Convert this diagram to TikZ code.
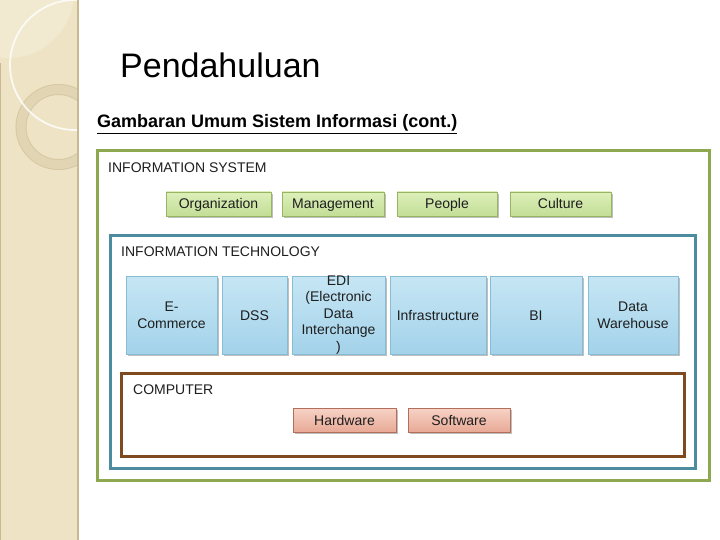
\documentclass[tikz,border=0pt]{standalone}
\usepackage{fontspec}
\setmainfont{Liberation Sans}
\usetikzlibrary{shadows}
\definecolor{sidebg}{HTML}{EEE3C4}
\definecolor{sideline}{HTML}{C9B990}
\definecolor{ringc}{HTML}{E2D5B3}
\definecolor{ringe}{HTML}{D6C8A4}
\definecolor{txt}{HTML}{1E1E1E}
\definecolor{gframe}{HTML}{8EA850}
\definecolor{tframe}{HTML}{4B8C9E}
\definecolor{bframe}{HTML}{7E4A1E}
\definecolor{gtop}{HTML}{DCEFBA}
\definecolor{gbot}{HTML}{C3DE96}
\definecolor{gbord}{HTML}{98B661}
\definecolor{btop}{HTML}{C6E6F4}
\definecolor{bbot}{HTML}{A3D2EA}
\definecolor{bbord}{HTML}{86BCD4}
\definecolor{stop}{HTML}{F7D3C6}
\definecolor{sbot}{HTML}{E8A996}
\definecolor{sbord}{HTML}{B46E5C}
\tikzset{
  lbl/.style={font=\fontsize{14}{17}\selectfont, text=txt, anchor=west, inner sep=0pt},
  item/.style={line width=0.8pt, align=center, inner sep=1pt, text=txt,
    font=\fontsize{14}{17}\selectfont,
    drop shadow={shadow xshift=1.5pt, shadow yshift=-2pt, opacity=0.25, fill=black}},
  oneline/.style={text height=10pt, text depth=0pt},
  gitem/.style={item, oneline, draw=gbord, top color=gtop, bottom color=gbot, minimum height=24pt},
  bitem/.style={item, draw=bbord, top color=btop, bottom color=bbot, minimum height=78pt},
  sitem/.style={item, oneline, draw=sbord, top color=stop, bottom color=sbot, minimum height=24pt},
  frame/.style={line width=3pt}
}
\begin{document}
\begin{tikzpicture}[x=1pt,y=-1pt]
\useasboundingbox (0,0) rectangle (720,540);
\fill[white] (0,0) rectangle (720,540);
% sidebar
\begin{scope}
  \clip (0,0) rectangle (78,540);
  \fill[sidebg] (0,0) rectangle (78,540);
  \fill[white, opacity=0.22] (8,-8) circle (66);
  \draw[ringe, line width=11pt] (58.5,127) circle (37.5);
  \draw[ringc, line width=9pt] (58.5,127) circle (37.5);
  \draw[white, opacity=0.8, line width=1.8pt] (75,65) circle (65);
\end{scope}
\draw[sideline, line width=1.5pt] (78,0) -- (78,540);
\draw[sideline, line width=1pt] (0.5,63) -- (0.5,540);

% titles
\node[anchor=base west, inner sep=0pt, font=\fontsize{34}{40}\selectfont] (title) at (120,78) {Pendahuluan};
\node[anchor=base west, inner sep=0pt, font=\fontsize{18}{22}\selectfont\bfseries] (sub) at (97,128) {\underline{Gambaran Umum Sistem Informasi (cont.)}};

% frames
\draw[frame, gframe] (97,151) rectangle (709,480);
\draw[frame, tframe] (110,235) rectangle (695,468);
\draw[frame, bframe] (121,373) rectangle (684,456);

\node[lbl] (isl) at (108,168) {INFORMATION SYSTEM};
\node[lbl] (itl) at (121,252) {INFORMATION TECHNOLOGY};
\node[lbl] (cl) at (133,390) {COMPUTER};

% information system items
\node[gitem, minimum width=105pt] (org) at (218.5,204) {Organization};
\node[gitem, minimum width=102pt] (mgt) at (333,204) {Management};
\node[gitem, minimum width=100pt] (ppl) at (447,204) {People};
\node[gitem, minimum width=101pt] (cul) at (560.5,204) {Culture};

% information technology items
\node[bitem, minimum width=91pt] (ecom) at (171.5,315) {E-\\Commerce};
\node[bitem, oneline, minimum width=65pt] (dss) at (254.5,315) {DSS};
\node[bitem, minimum width=93pt] (edi) at (338.5,315) {};
\node[align=center, inner sep=0pt, text=txt, font=\fontsize{14}{16.5}\selectfont] (editxt) at (edi.center) {EDI\\(Electronic\\Data\\Interchange\\)};
\node[bitem, oneline, minimum width=96pt] (infra) at (438,315) {Infrastructure};
\node[bitem, oneline, minimum width=92pt] (bi) at (536,315) {BI};
\node[bitem, minimum width=90pt] (dw) at (633,315) {Data\\Warehouse};

% computer items
\node[sitem, minimum width=103pt] (hw) at (344.5,420) {Hardware};
\node[sitem, minimum width=102pt] (sw) at (459,420) {Software};
\end{tikzpicture}
\end{document}
